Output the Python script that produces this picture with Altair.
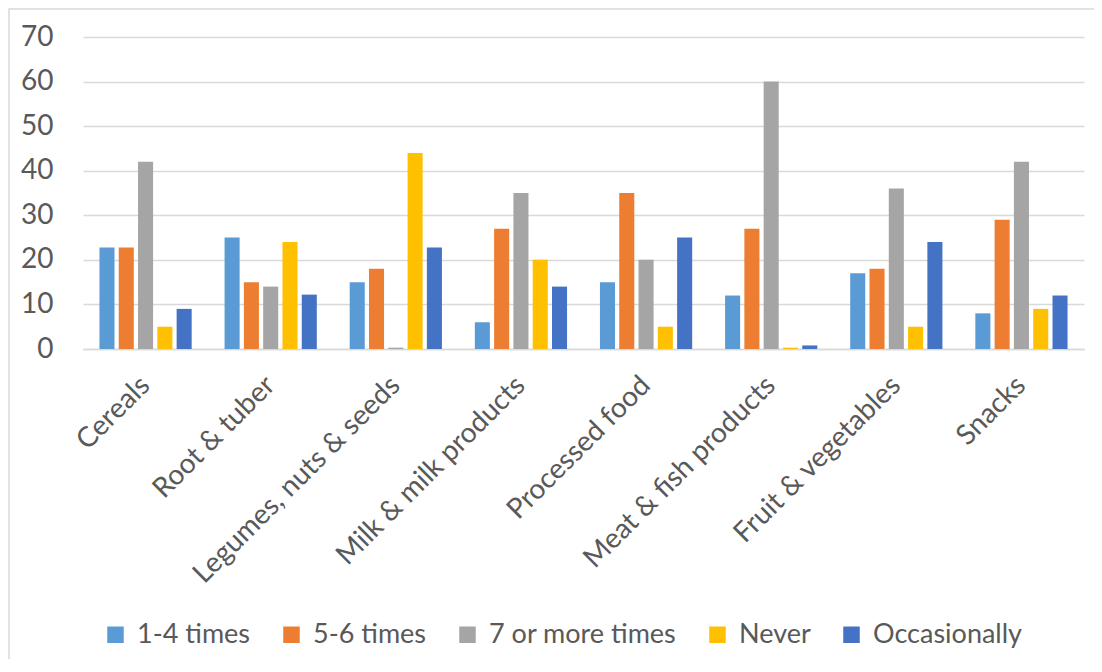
import altair as alt
import pandas as pd

categories = ["Cereals", "Root & tuber", "Legumes, nuts & seeds", "Milk & milk products",
              "Processed food", "Meat & fish products", "Fruit & vegetables", "Snacks"]
series = ["1-4 times", "5-6 times", "7 or more times", "Never", "Occasionally"]
colors = ["#5B9BD5", "#ED7D31", "#A5A5A5", "#FFC000", "#4472C4"]

v_1_4 = [22.8, 25, 15, 6, 15, 12, 17, 8]
v_5_6 = [22.8, 15, 18, 27, 35, 27, 18, 29]
v_7_more = [42, 14, 0.3, 35, 20, 60, 36, 42]
v_never = [5, 24, 44, 20, 5, 0.3, 5, 9]
v_occasionally = [9, 12.2, 22.8, 14, 25, 0.8, 24, 12]
y_ticks = [0, 10, 20, 30, 40, 50, 60, 70]

rows = []
for s, vals in zip(series, [v_1_4, v_5_6, v_7_more, v_never, v_occasionally]):
    for c, v in zip(categories, vals):
        rows.append({"category": c, "series": s, "value": v})
df = pd.DataFrame(rows)

TXT = "#595959"
GRID = "#d9d9d9"
FS = 28

bars = alt.Chart(df).mark_bar().encode(
    x=alt.X("category:N", sort=categories,
            scale=alt.Scale(paddingInner=0.229, paddingOuter=0.1145),
            axis=alt.Axis(title=None, labelAngle=-45, labelAlign="right", labelBaseline="middle",
                          labelPadding=32, labelFontSize=FS, labelColor=TXT, labelLimit=600,
                          domainColor=GRID, domainWidth=1.5, ticks=False)),
    xOffset=alt.XOffset("series:N", sort=series,
                        scale=alt.Scale(paddingInner=0.22, paddingOuter=0.11)),
    y=alt.Y("value:Q", scale=alt.Scale(domain=[0, 70]),
            axis=alt.Axis(title=None, values=y_ticks, domain=False, ticks=False,
                          gridColor=GRID, gridWidth=1.3, labelFontSize=FS,
                          labelPadding=30, labelColor=TXT)),
    color=alt.Color("series:N", sort=series,
                    scale=alt.Scale(domain=series, range=colors),
                    legend=alt.Legend(title=None, orient="none", legendX=19, legendY=584,
                                      direction="horizontal", symbolType="square",
                                      symbolSize=272, symbolStrokeWidth=0, labelFontSize=27,
                                      labelLimit=600, columnPadding=27, labelOffset=8,
                                      labelColor=TXT, padding=0)),
)

border = alt.Chart(alt.Data(values=[{}])).mark_rect(
    fillOpacity=0, stroke=GRID, strokeWidth=1.5
).encode(x=alt.value(-74), x2=alt.value(1060), y=alt.value(-28), y2=alt.value(700))

chart = alt.layer(border, bars).properties(
    width=1001, height=312,
    padding={"left": 75, "top": 29, "right": 10, "bottom": 310},
    autosize="none",
).configure(font="Lato").configure_view(stroke=None)

chart.save("out.html", embed_options={"renderer": "svg", "actions": False})
